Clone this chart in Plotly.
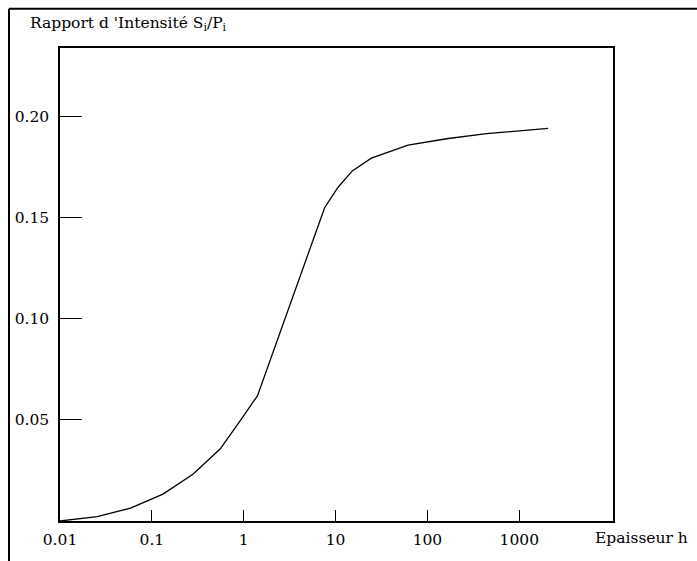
import plotly.graph_objects as go

# Data
epaisseur = [0.01, 0.0254, 0.0586, 0.132, 0.280, 0.556, 0.942, 1.41, 7.6, 10.6, 15.2, 24.5, 61.5, 161, 440, 2060]
rapport = [0.0, 0.0022, 0.0064, 0.0133, 0.0231, 0.0357, 0.0504, 0.0619, 0.155, 0.165, 0.1732, 0.1795, 0.186, 0.1891, 0.1916, 0.1942]

x_tickvals = [0.01, 0.1, 1, 10, 100, 1000]
x_ticktext = ["0.01", "0.1", "1", "10", "100", "1000"]
y_tickvals = [0.05, 0.10, 0.15, 0.20]
y_ticktext = ["0.05", "0.10", "0.15", "0.20"]

W, H = 697, 561
L, T = 60, 48
R = W - 613
B = H - 524
FONT = "DejaVu Serif"
PW, PH = W - L - R, H - T - B


def px(x):
    return (x - L) / PW


def py(y):
    return 1 - (y - T) / PH


fig = go.Figure()
fig.add_trace(go.Scatter(x=epaisseur, y=rapport, mode="lines",
                         line=dict(color="black", width=1.3), showlegend=False,
                         hoverinfo="skip"))

fig.update_layout(
    width=W, height=H,
    margin=dict(l=L, r=R, t=T, b=B, pad=0),
    paper_bgcolor="white", plot_bgcolor="white",
    font=dict(family=FONT, size=15.5, color="black"),
    xaxis=dict(type="log", range=[-2, 4.02], tickvals=x_tickvals, ticktext=x_ticktext,
               ticks="inside", ticklen=11, tickwidth=1.3, tickcolor="black",
               showline=True, linecolor="black", linewidth=1.5, mirror=True,
               showgrid=False, zeroline=False, ticklabelstandoff=4),
    yaxis=dict(range=[0, 0.234], tickvals=y_tickvals, ticktext=y_ticktext,
               ticks="inside", ticklen=22, tickwidth=1.3, tickcolor="black",
               showline=True, linecolor="black", linewidth=1.5, mirror=True,
               showgrid=False, zeroline=False, ticklabelstandoff=6),
)

# Outer frame (top and left edges, running off the page)
fig.add_shape(type="line", xref="paper", yref="paper", x0=px(9), x1=2, y0=py(8.5), y1=py(8.5),
              line=dict(color="black", width=2))
fig.add_shape(type="line", xref="paper", yref="paper", x0=px(9), x1=px(9), y0=py(8.5), y1=-1,
              line=dict(color="black", width=2))

fig.add_annotation(text="Rapport d 'Intensité S<sub>i</sub>/P<sub>i</sub>",
                   xref="paper", yref="paper", x=px(28), y=py(24),
                   xanchor="left", yanchor="middle", showarrow=False,
                   font=dict(family=FONT, size=15.5))
fig.add_annotation(text="Epaisseur h",
                   xref="paper", yref="paper", x=px(593), y=py(541),
                   xanchor="left", yanchor="middle", showarrow=False,
                   font=dict(family=FONT, size=15.5))

fig.write_html("out.html",
               config={"displayModeBar": False},
               post_script="document.body.style.margin='0';document.body.style.overflow='hidden';")
